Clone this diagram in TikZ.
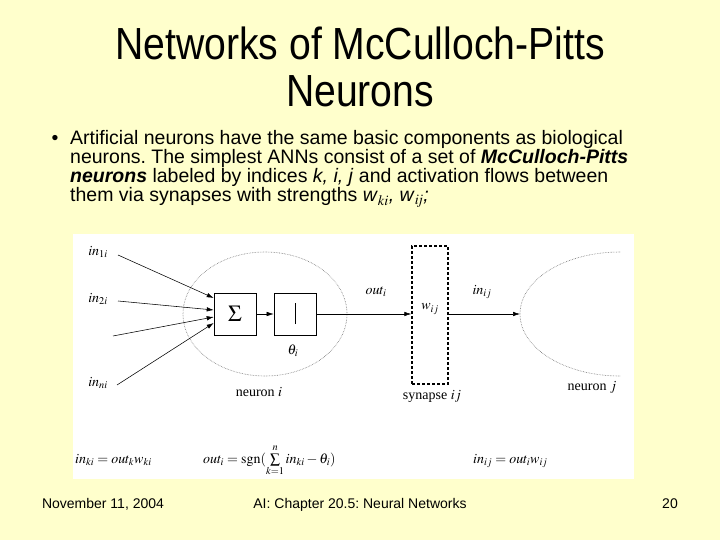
\documentclass[tikz,border=0pt]{standalone}
\usepackage{mathptmx}
\usepackage{fontspec}
\setmainfont{Liberation Serif}
\newfontfamily\slidefont{Liberation Sans}
\newfontfamily\titlefont[FakeStretch=0.87]{Liberation Sans}
\usetikzlibrary{arrows.meta}
\definecolor{slidebg}{HTML}{FFFFCC}
\frenchspacing
\begin{document}
\begin{tikzpicture}[x=1pt,y=-1pt,
  arr/.style={-{Latex[length=7pt,width=4.5pt]}, line width=0.55pt},
  lbl/.style={font=\fontsize{14}{16}\selectfont, inner sep=0pt},
  titletext/.style={font=\titlefont\fontsize{45}{50}\selectfont, anchor=base, inner sep=0pt},
  bodytext/.style={font=\slidefont\fontsize{19.5}{20}\selectfont, anchor=base west, inner sep=0pt},
  foot/.style={font=\slidefont\fontsize{14}{16}\selectfont, anchor=base, inner sep=0pt},
  opbox/.style={draw, line width=0.6pt, minimum width=42pt, minimum height=42pt, inner sep=0pt},
  cell/.style={draw=black!55, densely dotted, line width=0.6pt}]
\useasboundingbox (0,0) rectangle (720,540);
\fill[slidebg] (0,0) rectangle (720,540);
\fill[white] (73,234) rectangle (634,479);
% title
\node[titletext] (t1) at (360,60) {Networks of McCulloch-Pitts};
\node[titletext] (t2) at (360,107) {Neurons};
% body
\node[bodytext, anchor=base] (bul) at (55,145) {\textbullet};
\node[bodytext] (b1) at (70,145) {Artificial neurons have the same basic components as biological};
\node[bodytext] (b2) at (70,164) {neurons. The simplest ANNs consist of a set of \textbf{\textit{McCulloch-Pitts}}};
\node[bodytext] (b3) at (70,183) {\textbf{\textit{neurons}} labeled by indices \textit{k, i, j} and activation flows between};
\node[bodytext] (b4) at (70,202) {them via synapses with strengths \textit{w}$_{\mathit{ki}}$\textit{, w}$_{\mathit{ij}}$\textit{;}};
% neuron i
\draw[cell] (265,314) ellipse [x radius=82, y radius=62];
\node[opbox] (sum) at (235,314) {\fontsize{23}{24}\selectfont$\Sigma$};
\node[opbox] (thr) at (295,314) {};
\draw[line width=0.6pt] ([yshift=-10pt]thr.center) -- ([yshift=11pt]thr.center);
\node[lbl] (theta) at (293,351) {$\theta_i$};
\node[lbl] (nilab) at (259,392) {neuron $i$};
% inputs
\node[lbl] (in1) at (98,252) {$in_{1i}$};
\node[lbl] (in2) at (98,299) {$in_{2i}$};
\node[lbl] (inn) at (98,383) {$in_{ni}$};
\coordinate (s1) at (118,255);
\coordinate (s2) at (118,301);
\coordinate (s3) at (113,336);
\coordinate (s4) at (117,385);
\draw[arr] (s1) -- (sum.west |- 0,298);
\draw[arr] (s2) -- (sum.west |- 0,310);
\draw[arr] (s3) -- (sum.west |- 0,317);
\draw[arr] (s4) -- (sum.west |- 0,323);
\draw[arr] (sum) -- (thr);
% synapse
\node[draw, line width=1.5pt, dash pattern=on 3pt off 2pt, minimum width=36pt, minimum height=138pt, inner sep=0pt] (syn) at (430,315) {};
\node[lbl] (wij) at (430,309) {$w_{ij}$};
\node[lbl] (slab) at (432,396) {synapse $ij$};
\draw[arr] (thr.east) -- (syn.west |- thr.east);
\node[lbl] (outi) at (376,292) {$out_i$};
% neuron j
\coordinate (nj) at (520,314);
\draw[arr] (syn.east |- nj) -- (nj);
\node[lbl] (inij) at (482,292) {$in_{ij}$};
\draw[cell] (620,252) arc [start angle=270, end angle=90, x radius=100, y radius=62];
\node[lbl] (njlab) at (592,387) {neuron $j$};
% formulas
\node[lbl, anchor=base west] (f1) at (75,463) {$in_{ki}=out_k w_{ki}$};
\node[lbl, anchor=base west] (f2) at (203,463) {$out_i=\mathrm{sgn}(\sum\limits_{k=1}^{n} in_{ki}-\theta_i)$};
\node[lbl, anchor=base west] (f3) at (473,463) {$in_{ij}=out_i w_{ij}$};
% footer
\node[foot] (d) at (103,508) {November 11, 2004};
\node[foot] (c) at (360,508) {AI: Chapter 20.5: Neural Networks};
\node[foot] (p) at (670,508) {20};
\end{tikzpicture}
\end{document}
